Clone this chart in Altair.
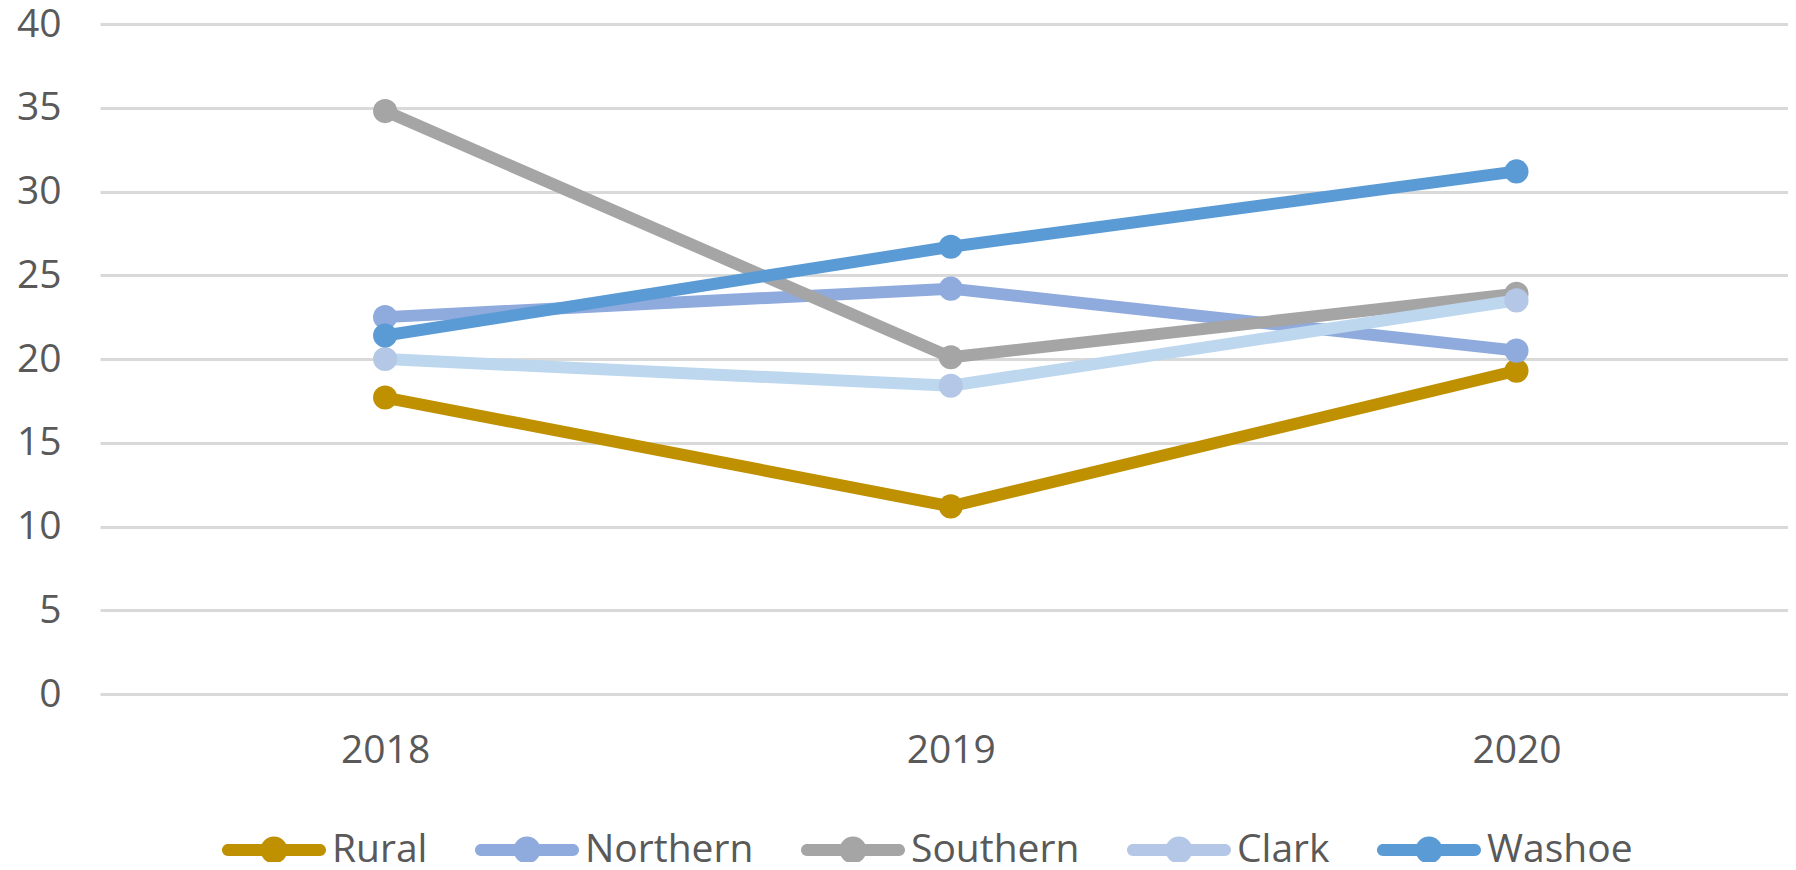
import altair as alt
import pandas as pd

years = [2018, 2019, 2020]
series = ["Rural", "Northern", "Southern", "Clark", "Washoe"]
rural = [17.7, 11.2, 19.3]
northern = [22.5, 24.2, 20.5]
southern = [34.8, 20.1, 23.9]
clark = [20.0, 18.4, 23.5]
washoe = [21.4, 26.7, 31.2]
line_colors = ["#BF9000", "#8FAADC", "#A5A5A5", "#BDD7EE", "#5B9BD5"]
marker_colors = ["#BF9000", "#8FAADC", "#A5A5A5", "#B4C7E7", "#5B9BD5"]
y_ticks = [0, 5, 10, 15, 20, 25, 30, 35, 40]

values = [rural, northern, southern, clark, washoe]
rows = []
for name, vals in zip(series, values):
    for yr, v in zip(years, vals):
        rows.append({"year": yr, "series": name, "value": v})
df = pd.DataFrame(rows)

FONT = "Open Sans"
TXT = "#595959"
FS = 39

x_enc = alt.X(
    "year:Q",
    scale=alt.Scale(domain=[2017.496, 2020.48], nice=False, zero=False),
    axis=alt.Axis(values=years, format="d", title=None, grid=False, domain=False,
                  ticks=False, tickSize=0, labelPadding=56, labelBaseline="middle",
                  labelFontSize=FS, labelColor=TXT, labelFont=FONT),
)
y_enc = alt.Y(
    "value:Q",
    scale=alt.Scale(domain=[0, 40], nice=False),
    axis=alt.Axis(values=y_ticks, title=None, grid=True, gridColor="#D9D9D9", gridWidth=3,
                  domain=False, ticks=False, tickSize=0, labelPadding=39,
                  labelFontSize=FS, labelColor=TXT, labelFont=FONT),
)

sym = ("M -0.885 -0.115 L 0.885 -0.115 A 0.115 0.115 0 0 1 0.885 0.115 "
       "L -0.885 0.115 A 0.115 0.115 0 0 1 -0.885 -0.115 Z "
       "M 0.26 0 A 0.26 0.26 0 1 1 -0.26 0 A 0.26 0.26 0 1 1 0.26 0 Z")

fill_enc = alt.Fill(
    "series:N",
    scale=alt.Scale(domain=series, range=marker_colors),
    legend=alt.Legend(
        title=None, orient="none", legendX=122, legendY=774, direction="horizontal",
        symbolType=sym, symbolSize=10816, symbolStrokeWidth=0, symbolOpacity=1,
        labelFontSize=FS, labelColor=TXT, labelFont=FONT, labelOffset=6,
        columnPadding=47, labelLimit=400, padding=0,
    ),
)

base = alt.Chart(df)
layers = []
for name, lc in zip(series, line_colors):
    sub = base.transform_filter(alt.datum.series == name)
    layers.append(sub.mark_line(strokeWidth=12, opacity=1, color=lc).encode(x=x_enc, y=y_enc))
    layers.append(sub.mark_point(filled=True, size=580, opacity=1, shape="circle", strokeWidth=0)
                  .encode(x=x_enc, y=y_enc, fill=fill_enc))

chart = alt.layer(*layers).properties(
    width=1688, height=670,
    padding={"left": 92, "top": 16, "right": 0, "bottom": 168},
    autosize=alt.AutoSizeParams(type="none"),
).configure(font=FONT, background="white", view=alt.ViewConfig(stroke=None))

chart.save("out.html", embed_options={"renderer": "svg", "actions": False})
